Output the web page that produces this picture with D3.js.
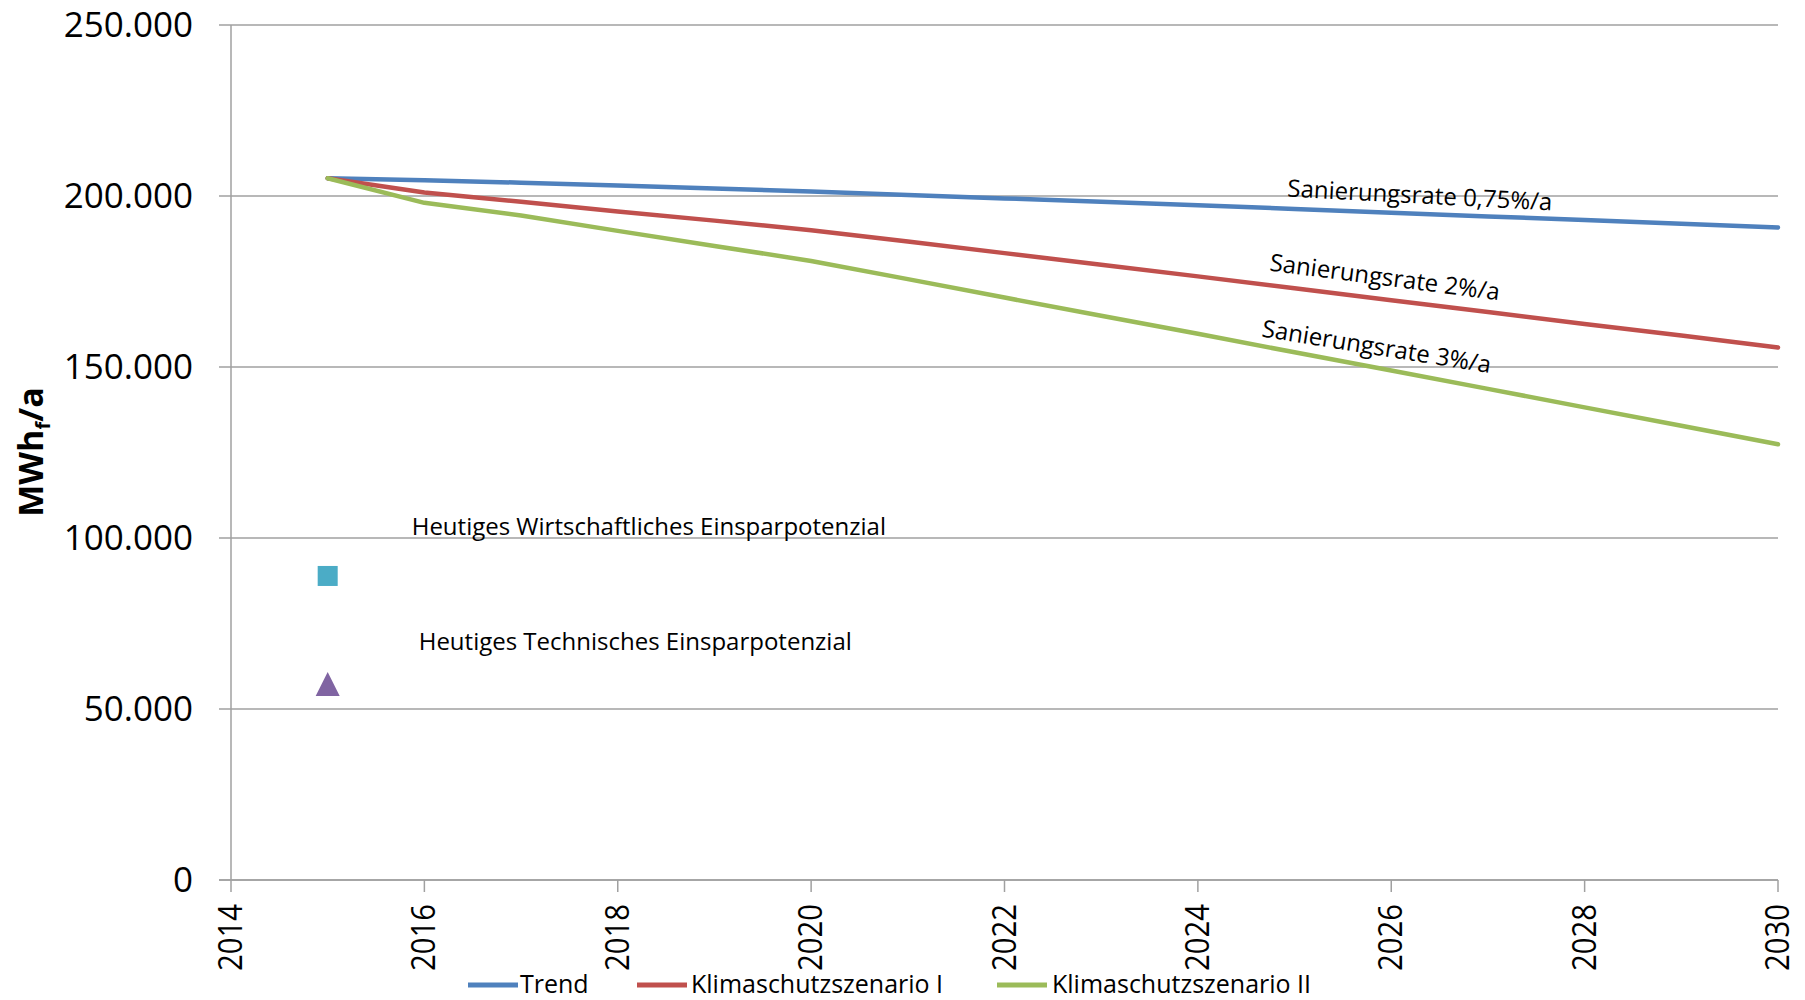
<!DOCTYPE html>
<html lang="de">
<head>
<meta charset="utf-8">
<title>Endenergieverbrauch – Szenarien bis 2030</title>
<script src="https://cdn.jsdelivr.net/npm/d3@7"></script>
<style>
  html, body { margin: 0; padding: 0; background: #fff; }
  svg { display: block; font-family: "Open Sans", "Noto Sans", sans-serif; }
</style>
</head>
<body>
<svg id="chart" width="1805" height="1000"></svg>
<script>
// Years shown on the chart
const years = [2015, 2016, 2017, 2018, 2019, 2020, 2021, 2022, 2023, 2024, 2025, 2026, 2027, 2028, 2029, 2030];

// Final energy demand in MWh/a per scenario
const trend = [205200, 204600, 203900, 203100, 202200, 201300, 200300, 199300, 198300, 197300, 196200, 195100, 194000, 193000, 191900, 190800];
const klima1 = [205200, 201000, 198300, 195500, 192800, 190000, 186700, 183300, 179900, 176500, 173000, 169500, 166100, 162600, 159200, 155700];
const klima2 = [205200, 198000, 194300, 189800, 185400, 181000, 175700, 170300, 165000, 159700, 154300, 149000, 143600, 138200, 132800, 127400];

const seriesNames = ["Trend", "Klimaschutzszenario I", "Klimaschutzszenario II"];
const seriesRates = ["Sanierungsrate 0,75%/a", "Sanierungsrate 2%/a", "Sanierungsrate 3%/a"];

// Present-day savings potentials (single points in 2015)
const potentialYear = 2015;
const potentialNames = ["Heutiges Wirtschaftliches Einsparpotenzial", "Heutiges Technisches Einsparpotenzial"];
const potentialValues = [88900, 57300];

// Axis ticks
const yTickValues = [0, 50000, 100000, 150000, 200000, 250000];
const xTickValues = [2014, 2016, 2018, 2020, 2022, 2024, 2026, 2028, 2030];

const colors = ["#4F81BD", "#C0504D", "#9BBB59"];
const potentialColors = ["#4BACC6", "#8064A2"];

const svg = d3.select("#chart");
const plot = { left: 231, right: 1778, top: 25, bottom: 880 };

const x = d3.scaleLinear().domain([2014, 2030]).range([plot.left, plot.right]);
const y = d3.scaleLinear().domain([0, 250000]).range([plot.bottom, plot.top]);

const de = d3.formatLocale({ decimal: ",", thousands: ".", grouping: [3], currency: ["", " €"] });
const fmt = de.format(",.0f");

// Horizontal gridlines (with the tick stubs left of the axis)
svg.append("g")
  .selectAll("line")
  .data(yTickValues)
  .join("line")
  .attr("x1", plot.left - 12)
  .attr("x2", plot.right)
  .attr("y1", d => y(d))
  .attr("y2", d => y(d))
  .attr("stroke", d => d === 0 ? "#a6a6a6" : "#a0a0a0")
  .attr("stroke-width", d => d === 0 ? 2 : 1.5);

// Vertical axis line
svg.append("line")
  .attr("x1", plot.left).attr("x2", plot.left)
  .attr("y1", plot.top).attr("y2", plot.bottom)
  .attr("stroke", "#a0a0a0").attr("stroke-width", 1.5);

// Y tick labels
svg.append("g")
  .selectAll("text")
  .data(yTickValues)
  .join("text")
  .attr("x", 193)
  .attr("y", d => y(d))
  .attr("dy", "0.357em")
  .attr("text-anchor", "end")
  .attr("font-size", 35)
  .attr("fill", "#000")
  .text(d => fmt(d));

// X axis ticks and rotated year labels
const xAxis = svg.append("g");
xAxis.selectAll("line")
  .data(xTickValues)
  .join("line")
  .attr("x1", d => x(d)).attr("x2", d => x(d))
  .attr("y1", plot.bottom).attr("y2", plot.bottom + 12)
  .attr("stroke", "#a0a0a0").attr("stroke-width", 1.5);

xAxis.selectAll("text")
  .data(xTickValues)
  .join("text")
  .attr("transform", d => `translate(${x(d) + 11},${plot.bottom + 24}) rotate(-90)`)
  .attr("text-anchor", "end")
  .attr("font-size", 33)
  .attr("textLength", 67)
  .attr("lengthAdjust", "spacingAndGlyphs")
  .attr("fill", "#000")
  .text(d => d);

// Y axis title: MWh_f/a
const yTitle = svg.append("text")
  .attr("transform", `translate(43,452) rotate(-90)`)
  .attr("text-anchor", "middle")
  .attr("font-size", 34)
  .attr("font-weight", "bold")
  .attr("fill", "#000");
yTitle.append("tspan").text("MWh");
yTitle.append("tspan").attr("font-size", 20).attr("dy", 7).text("f");
yTitle.append("tspan").attr("dy", -7).text("/a");

// Scenario lines
const allSeries = [trend, klima1, klima2];
const line = d3.line()
  .x((d, i) => x(years[i]))
  .y(d => y(d));

svg.append("g")
  .selectAll("path")
  .data(allSeries)
  .join("path")
  .attr("d", d => line(d))
  .attr("fill", "none")
  .attr("stroke", (d, i) => colors[i])
  .attr("stroke-width", 4.5)
  .attr("stroke-linejoin", "round")
  .attr("stroke-linecap", "round");

// Rotated rate labels along the scenario lines
const rateLabels = [
  { xPos: 1287, yPos: 196.5, angle: 3.0 },
  { xPos: 1269, yPos: 270.5, angle: 7.4 },
  { xPos: 1261, yPos: 336.5, angle: 9.1 }
];
svg.append("g")
  .selectAll("text")
  .data(seriesRates)
  .join("text")
  .attr("transform", (d, i) => `translate(${rateLabels[i].xPos},${rateLabels[i].yPos}) rotate(${rateLabels[i].angle})`)
  .attr("font-size", 24)
  .attr("fill", "#000")
  .text(d => d);

// Savings potential markers
const px = x(potentialYear);
svg.append("rect")
  .attr("x", px - 10).attr("y", y(potentialValues[0]) - 10)
  .attr("width", 20).attr("height", 20)
  .attr("fill", potentialColors[0]);

svg.append("path")
  .attr("transform", `translate(${px},${y(potentialValues[1])})`)
  .attr("d", "M0,-12 L12,12 L-12,12 Z")
  .attr("fill", potentialColors[1]);

// Potential labels
svg.append("text")
  .attr("x", px + 84).attr("y", y(potentialValues[0]) - 41)
  .attr("font-size", 24)
  .attr("fill", "#000")
  .text(potentialNames[0]);

svg.append("text")
  .attr("x", px + 91).attr("y", y(potentialValues[1]) - 34)
  .attr("font-size", 24)
  .attr("fill", "#000")
  .text(potentialNames[1]);

// Legend
const legendItems = [
  { lx: 468, tx: 520 },
  { lx: 637, tx: 691 },
  { lx: 997, tx: 1052 }
];
const legend = svg.append("g");
legend.selectAll("line")
  .data(seriesNames)
  .join("line")
  .attr("x1", (d, i) => legendItems[i].lx)
  .attr("x2", (d, i) => legendItems[i].lx + 50)
  .attr("y1", 985).attr("y2", 985)
  .attr("stroke", (d, i) => colors[i])
  .attr("stroke-width", 5);
legend.selectAll("text")
  .data(seriesNames)
  .join("text")
  .attr("x", (d, i) => legendItems[i].tx)
  .attr("y", 993)
  .attr("font-size", 25)
  .attr("fill", "#000")
  .text(d => d);
</script>
</body>
</html>
